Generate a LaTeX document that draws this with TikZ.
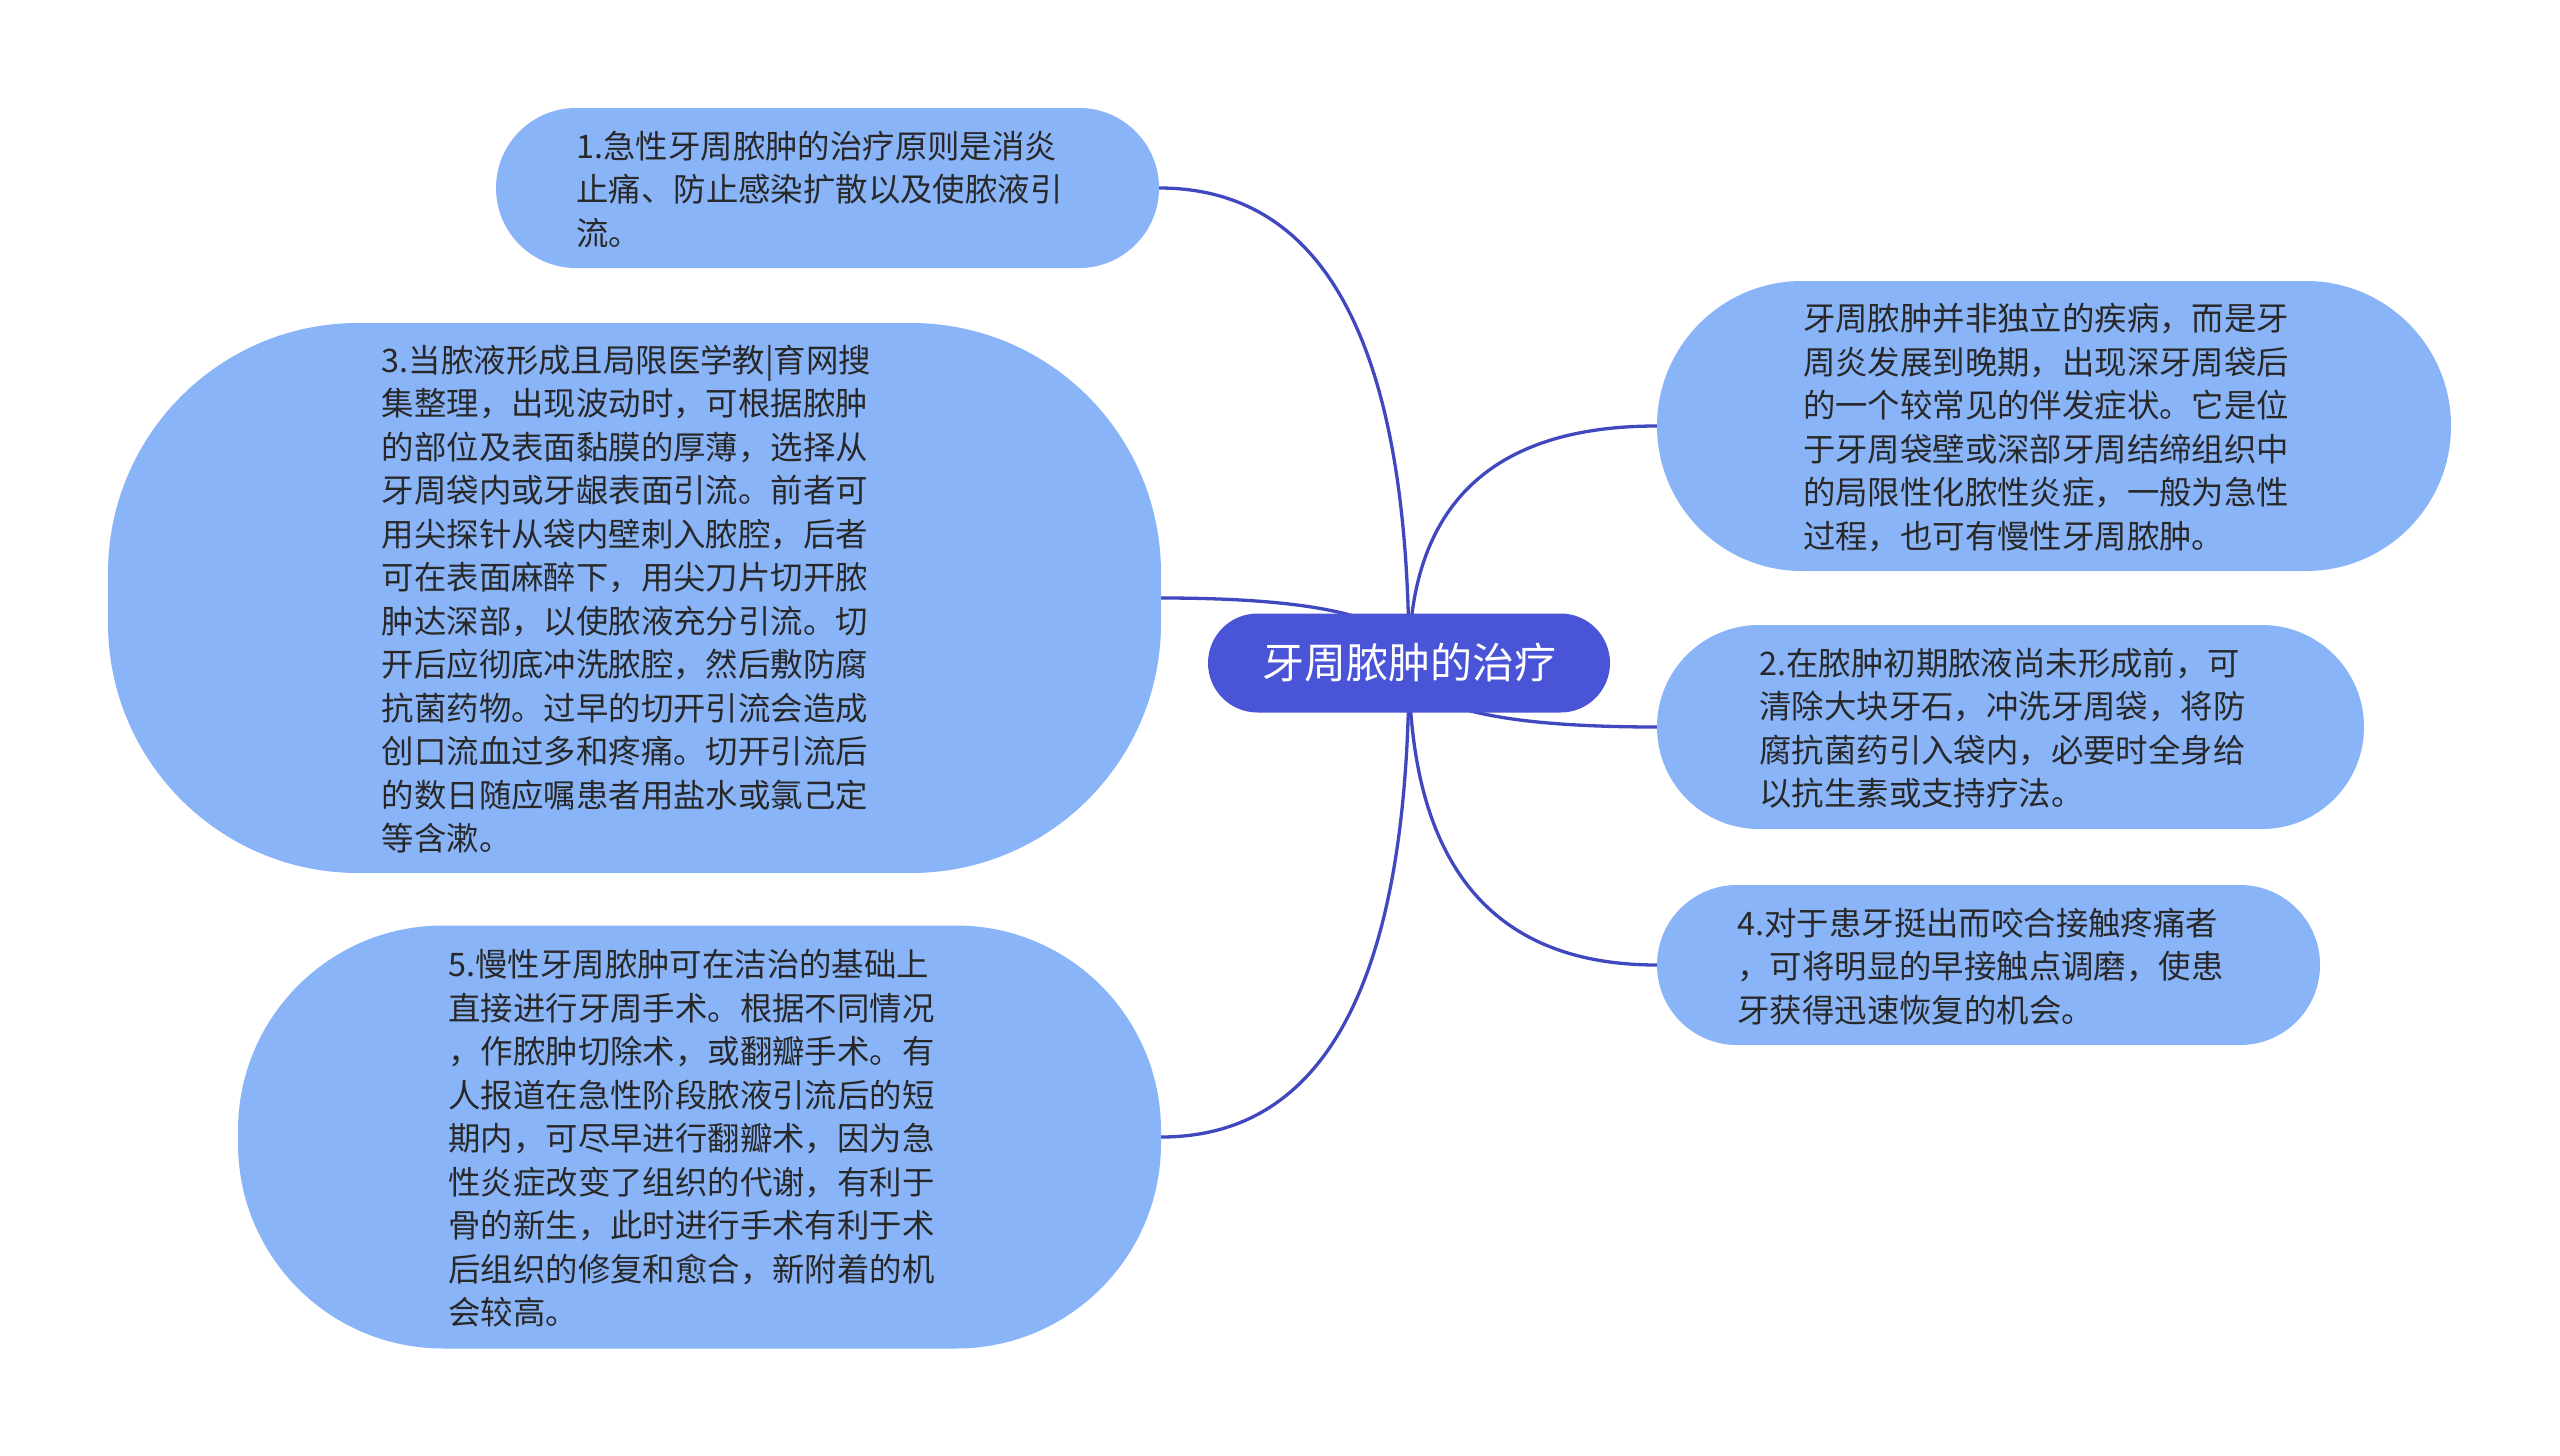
\documentclass[tikz,border=0pt]{standalone}
\usepackage{fontspec}
\setmainfont{Noto Sans CJK SC}
\usetikzlibrary{backgrounds,calc}
\definecolor{rootc}{RGB}{74,84,214}
\definecolor{leafc}{RGB}{138,180,248}
\definecolor{edgec}{RGB}{64,72,192}
\definecolor{txtc}{RGB}{40,40,40}
\newcommand{\leaftext}[1]{\raisebox{-5pt}[\height][\depth]{\begin{tabular}{@{}l@{\hspace{16pt}}}#1\end{tabular}}}
\begin{document}
\begin{tikzpicture}[x=1pt,y=-1pt,
  leaf/.style={fill=leafc, text=txtc, inner sep=0pt,
    font=\fontsize{32.4}{43.5}\selectfont},
  boxdim/.style n args={3}{minimum width=#1, minimum height=#2, rounded corners=#3},
  rootnode/.style={fill=rootc, text=white, inner sep=0pt, minimum width=402pt,
    minimum height=99pt, rounded corners=49.5pt, font=\fontsize{42}{50}\selectfont},
  edge/.style={draw=edgec, line width=3.3pt}]
\useasboundingbox (0,0) rectangle (2560,1456);

\node[rootnode] (root) at (1409,663) {牙周脓肿的治疗};

\node[leaf, boxdim={663pt}{160pt}{80pt}] (n1) at (827.5,188)
  {\leaftext{1.急性牙周脓肿的治疗原则是消炎\\止痛、防止感染扩散以及使脓液引\\流。}};

\node[leaf, boxdim={1053pt}{550pt}{250pt}] (n3) at (634.5,598)
  {\leaftext{3.当脓液形成且局限医学教|育网搜\\集整理，出现波动时，可根据脓肿\\的部位及表面黏膜的厚薄，选择从\\牙周袋内或牙龈表面引流。前者可\\用尖探针从袋内壁刺入脓腔，后者\\可在表面麻醉下，用尖刀片切开脓\\肿达深部，以使脓液充分引流。切\\开后应彻底冲洗脓腔，然后敷防腐\\抗菌药物。过早的切开引流会造成\\创口流血过多和疼痛。切开引流后\\的数日随应嘱患者用盐水或氯己定\\等含漱。}};

\node[leaf, boxdim={923pt}{423pt}{205pt}] (n5) at (699.5,1137)
  {\leaftext{5.慢性牙周脓肿可在洁治的基础上\\直接进行牙周手术。根据不同情况\\，作脓肿切除术，或翻瓣手术。有\\人报道在急性阶段脓液引流后的短\\期内，可尽早进行翻瓣术，因为急\\性炎症改变了组织的代谢，有利于\\骨的新生，此时进行手术有利于术\\后组织的修复和愈合，新附着的机\\会较高。}};

\node[leaf, boxdim={794pt}{290pt}{145pt}] (nI) at (2054,426)
  {\leaftext{牙周脓肿并非独立的疾病，而是牙\\周炎发展到晚期，出现深牙周袋后\\的一个较常见的伴发症状。它是位\\于牙周袋壁或深部牙周结缔组织中\\的局限性化脓性炎症，一般为急性\\过程，也可有慢性牙周脓肿。}};

\node[leaf, boxdim={707pt}{204pt}{102pt}] (n2) at (2010.5,727)
  {\leaftext{2.在脓肿初期脓液尚未形成前，可\\清除大块牙石，冲洗牙周袋，将防\\腐抗菌药引入袋内，必要时全身给\\以抗生素或支持疗法。}};

\node[leaf, boxdim={663pt}{160pt}{80pt}] (n4) at (1988.5,965)
  {\leaftext{4.对于患牙挺出而咬合接触疼痛者\\，可将明显的早接触点调磨，使患\\牙获得迅速恢复的机会。}};

\begin{scope}[on background layer]
  \fill[white] (0,0) rectangle (2560,1456);
  \foreach \t/\a in {n1/east, n3/east, n5/east, nI/west, n2/west, n4/west}{
    \draw[edge] (root.center)
      .. controls ($(root.center)!2/3!(root.center |- \t.\a)$)
             and ($(\t.\a)!2/3!(root.center |- \t.\a)$) .. (\t.\a);
  }
\end{scope}
\end{tikzpicture}
\end{document}
